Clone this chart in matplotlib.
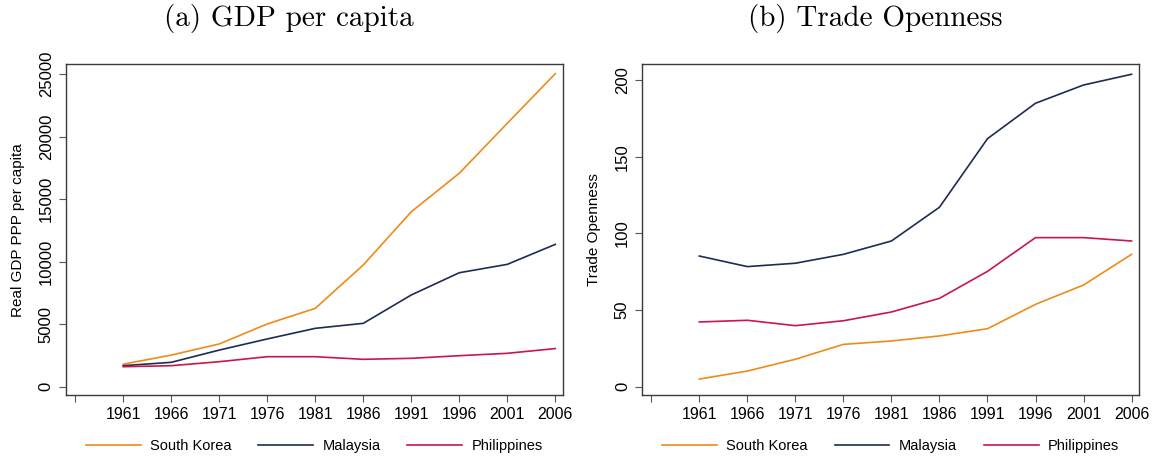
import matplotlib.pyplot as plt

years = [1961, 1966, 1971, 1976, 1981, 1986, 1991, 1996, 2001, 2006]
countries = ['South Korea', 'Malaysia', 'Philippines']
colors = ['#ED8B1A', '#1F2C52', '#C8174A']

gdp_korea = [1800, 2530, 3420, 5020, 6270, 9740, 14000, 17080, 21080, 25050]
gdp_malaysia = [1680, 1950, 2930, 3820, 4670, 5070, 7340, 9120, 9790, 11390]
gdp_philippines = [1600, 1680, 2000, 2400, 2400, 2190, 2270, 2480, 2670, 3050]

trade_korea = [5.0, 10.2, 17.9, 27.6, 29.8, 33.1, 37.8, 53.7, 66.3, 86.3]
trade_malaysia = [85.2, 78.3, 80.5, 86.3, 95.0, 117.0, 161.7, 184.8, 196.7, 203.7]
trade_philippines = [42.2, 43.3, 39.8, 43.0, 48.7, 57.6, 75.2, 97.2, 97.2, 95.0]

xticks = list(range(1956, 2007, 5))
xticklabels = [''] + [str(y) for y in xticks[1:]]

plt.rcParams['font.family'] = ['Liberation Sans', 'DejaVu Sans']

fig = plt.figure(figsize=(11.56, 4.57), dpi=100, facecolor='white')
ax1 = fig.add_axes([0.0568, 0.1357, 0.4302, 0.7236])
ax2 = fig.add_axes([0.5551, 0.1357, 0.4304, 0.7236])

panels = [
    (ax1, [gdp_korea, gdp_malaysia, gdp_philippines], 'Real GDP PPP per capita',
     range(0, 25001, 5000), (-664, 25800), '(a) GDP per capita', 0.25),
    (ax2, [trade_korea, trade_malaysia, trade_philippines], 'Trade Openness',
     range(0, 201, 50), (-5.4, 210.2), '(b) Trade Openness', 0.757),
]

spine_color = '#3a3a3a'
for ax, series, ylabel, yticks, ylim, title, tx in panels:
    for vals, name, c in zip(series, countries, colors):
        ax.plot(years, vals, color=c, linewidth=1.2, label=name)
    ax.set_xlim(1955.0, 2006.8)
    ax.set_ylim(*ylim)
    ax.set_xticks(xticks)
    ax.set_xticklabels(xticklabels)
    ax.set_yticks(list(yticks))
    ax.tick_params(axis='both', labelsize=11.5, color='#555555', length=5, width=0.8)
    ax.tick_params(axis='y', labelsize=12)
    for lab in ax.get_yticklabels():
        lab.set_rotation(90)
        lab.set_va('center')
    ax.set_ylabel(ylabel, fontsize=11, labelpad=10)
    for s in ax.spines.values():
        s.set_edgecolor(spine_color)
        s.set_linewidth(1.0)
    ax.legend(loc='center', bbox_to_anchor=(0.5, -0.155), ncol=3, frameon=False,
              fontsize=10.5, handlelength=3.77, columnspacing=1.85, handletextpad=0.62)
    fig.text(tx, 0.96, title, fontsize=21, family='cmr10', ha='center', va='center')

fig.savefig('out.png', dpi=100, facecolor='white')
